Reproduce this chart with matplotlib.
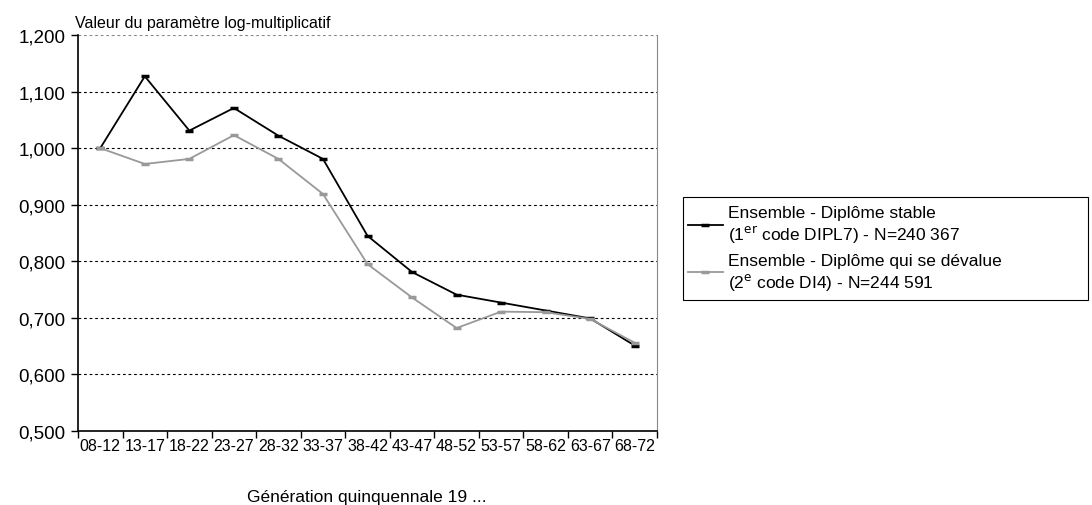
import matplotlib.pyplot as plt
import numpy as np
from matplotlib.ticker import FuncFormatter, FixedLocator
from matplotlib.patches import Rectangle

plt.rcParams['font.family'] = ['Liberation Sans', 'DejaVu Sans']

generations = ['08-12', '13-17', '18-22', '23-27', '28-32', '33-37', '38-42',
               '43-47', '48-52', '53-57', '58-62', '63-67', '68-72']
diplome_stable = [1.000, 1.127, 1.031, 1.071, 1.022, 0.981, 0.845,
                  0.781, 0.741, 0.727, 0.713, 0.699, 0.651]
diplome_devalue = [1.000, 0.972, 0.981, 1.023, 0.981, 0.919, 0.795,
                   0.736, 0.682, 0.711, 0.710, 0.698, 0.656]

label_stable = 'Ensemble - Diplôme stable\n(1$^{\\mathrm{er}}$ code DIPL7) - N=240 367'
label_devalue = 'Ensemble - Diplôme qui se dévalue\n(2$^{\\mathrm{e}}$ code DI4) - N=244 591'

W, H = 1092, 506
fig = plt.figure(figsize=(W / 100, H / 100), dpi=100)
ax = fig.add_axes([78 / W, 1 - 432 / H, 579 / W, 396 / H])

x = np.arange(len(generations))
ax.plot(x, diplome_stable, color='black', lw=1.3, marker='_', ms=6, mew=2.5, label=label_stable)
ax.plot(x, diplome_devalue, color='#999999', lw=1.3, marker='_', ms=6, mew=2.5, label=label_devalue)

ax.set_xlim(-0.5, len(generations) - 0.5)
ax.set_ylim(0.5, 1.2)
ax.set_yticks(np.arange(0.5, 1.21, 0.1))
ax.yaxis.set_major_formatter(FuncFormatter(lambda v, p: '{:.3f}'.format(v).replace('.', ',')))
for yv in np.arange(0.6, 1.15, 0.1):
    ax.axhline(yv, color='black', lw=0.8, ls=(0, (2.5, 2.5)), zorder=0)
ax.axhline(1.2, color='#888888', lw=0.8, ls=(0, (2.5, 2.5)), zorder=0)

ax.set_xticks(x)
ax.set_xticklabels(generations, fontsize=11.5, fontfamily=['Liberation Sans Narrow', 'Liberation Sans'])
ax.tick_params(axis='x', which='major', length=0, pad=5)
ax.xaxis.set_minor_locator(FixedLocator(np.arange(-0.5, len(generations), 1)))
ax.tick_params(axis='x', which='minor', length=5, direction='out', width=1)
ax.tick_params(axis='y', length=5, direction='out', labelsize=13.5, width=1, pad=4)

ax.spines['top'].set_visible(False)
ax.spines['right'].set_color('#888888')
ax.spines['right'].set_linewidth(0.8)
ax.spines['left'].set_linewidth(1.2)
ax.spines['bottom'].set_linewidth(1.2)

fig.text(75 / W, 1 - 24 / H, 'Valeur du paramètre log-multiplicatif', fontsize=11.5, va='center', ha='left')
fig.text(367 / W, 1 - 498 / H, 'Génération quinquennale 19 ...', fontsize=12.5, va='center', ha='center')

# legend frame drawn separately, wider than the text like the original
fig.patches.append(Rectangle((683 / W, 1 - 301 / H), 405 / W, 103 / H, transform=fig.transFigure,
                             fill=False, edgecolor='black', lw=0.8))
leg = fig.legend(loc='upper left', bbox_to_anchor=(688 / W, 1 - 206 / H), fontsize=12.5,
                 frameon=False, handlelength=2.0, handletextpad=0.3, borderpad=0,
                 labelspacing=0.45, borderaxespad=0)

fig.savefig('out.png', dpi=100)
